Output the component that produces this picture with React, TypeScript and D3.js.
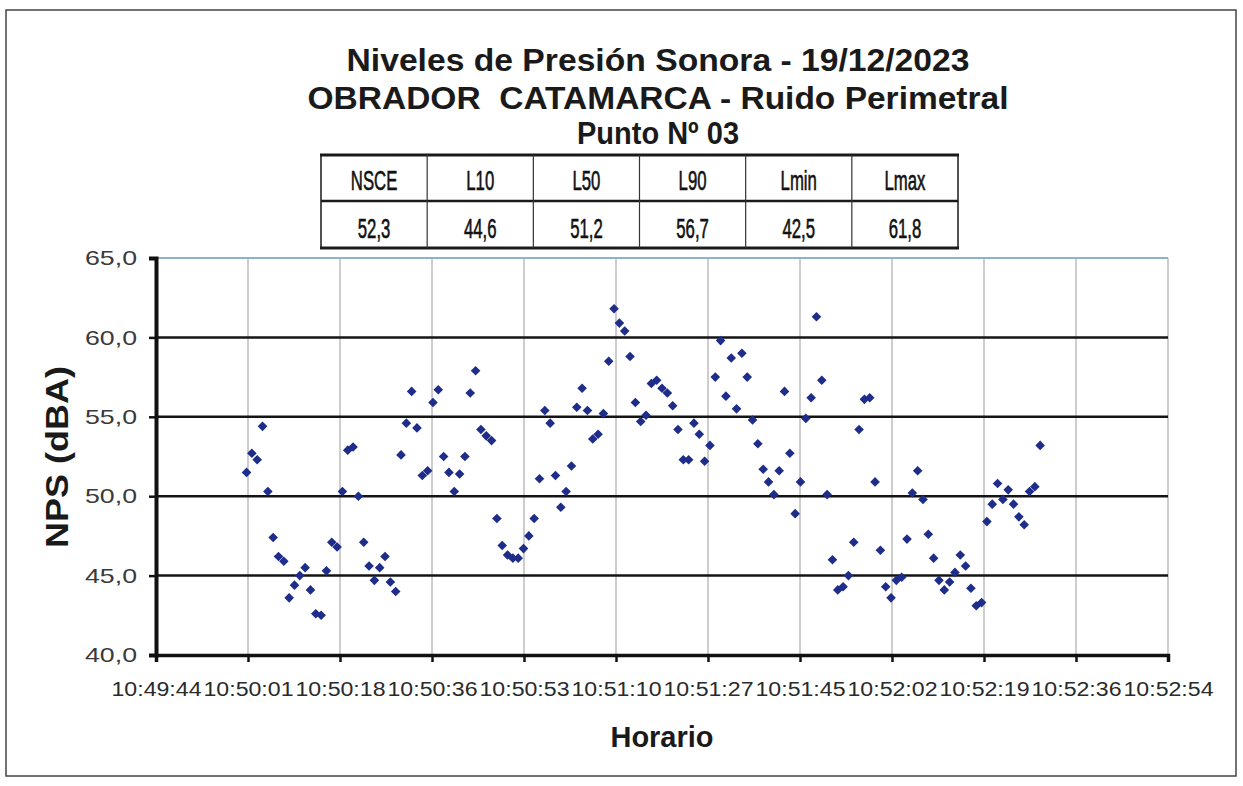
import { useRef, useEffect } from 'react'
import * as d3 from 'd3'

const W = 1243
const H = 786
const MARGIN = { top: 258, right: 75, bottom: 131, left: 156 }
const FONT = '"Liberation Sans", Arial, Helvetica, sans-serif'

const TITLE_LINES = [
  'Niveles de Presión Sonora - 19/12/2023',
  'OBRADOR  CATAMARCA - Ruido Perimetral',
  'Punto Nº 03',
]
const TABLE_HEADERS = ['NSCE', 'L10', 'L50', 'L90', 'Lmin', 'Lmax']
const TABLE_VALUES = ['52,3', '44,6', '51,2', '56,7', '42,5', '61,8']

const X_MIN = '10:49:44'
const X_MAX = '10:52:54'
const X_TICK_LABELS = [
  '10:49:44', '10:50:01', '10:50:18', '10:50:36', '10:50:53', '10:51:10',
  '10:51:27', '10:51:45', '10:52:02', '10:52:19', '10:52:36', '10:52:54',
]
const Y_TICKS = [40, 45, 50, 55, 60, 65]

// one reading per second starting at 10:50:01
const SAMPLE_START = '10:50:01'
const NPS = [
  51.5, 52.7, 52.3, 54.4, 50.3, 47.4, 46.2, 45.9, 43.6, 44.4, 45.0, 45.5, 44.1, 42.6, 42.5, 45.3,
  47.1, 46.8, 50.3, 52.9, 53.1, 50.0, 47.1, 45.6, 44.7, 45.5, 46.2, 44.6, 44.0, 52.6, 54.6, 56.6,
  54.3, 51.3, 51.6, 55.9, 56.7,
  52.5, 51.5, 50.3, 51.4, 52.5, 56.5, 57.9, 54.2, 53.8, 53.5, 48.6, 46.9, 46.3, 46.1, 46.1, 46.7,
  47.5, 48.6, 51.1, 55.4, 54.6, 51.3, 49.3, 50.3, 51.9, 55.6, 56.8, 55.4, 53.6, 53.9, 55.2, 58.5,
  61.8, 60.9, 60.4, 58.8, 55.9, 54.7, 55.1,
  57.1, 57.3, 56.8, 56.5, 55.7, 54.2, 52.3, 52.3, 54.6, 53.9, 52.2, 53.2, 57.5, 59.8, 56.3, 58.7,
  55.5, 59.0, 57.5, 54.8, 53.3, 51.7, 50.9, 50.1, 51.6, 56.6, 52.7, 48.9, 50.9, 54.9, 56.2, 61.3,
  57.3, 50.1, 46.0, 44.1, 44.3,
  45.0, 47.1, 54.2, 56.1, 56.2, 50.9, 46.6, 44.3, 43.6, 44.7, 44.9, 47.3, 50.2, 51.6, 49.8, 47.6,
  46.1, 44.7, 44.1, 44.6, 45.2, 46.3, 45.6, 44.2, 43.1, 43.3, 48.4, 49.5, 50.8, 49.8, 50.4, 49.5,
  48.7, 48.2, 50.3, 50.6, 53.2,
]

export default function App() {
  const svgRef = useRef<SVGSVGElement>(null)

  useEffect(() => {
    document.body.style.margin = '0'
    if (!svgRef.current) return
    const el = d3.select(svgRef.current)
    el.selectAll('*').remove()

    const parse = d3.timeParse('%H:%M:%S')
    const t0 = parse(X_MIN)!.getTime()
    const t1 = parse(X_MAX)!.getTime()
    const start = parse(SAMPLE_START)!.getTime()
    const points = NPS.map((v, i) => ({ t: new Date(start + i * 1000), v }))

    const x = d3.scaleTime().domain([new Date(t0), new Date(t1)]).range([MARGIN.left, W - MARGIN.right])
    const y = d3.scaleLinear().domain([40, 65]).range([H - MARGIN.bottom, MARGIN.top])
    const xTicks = X_TICK_LABELS.map((_, i) => new Date(t0 + (i * (t1 - t0)) / (X_TICK_LABELS.length - 1)))

    el.append('rect').attr('width', W).attr('height', H).attr('fill', '#fff')
    el.append('rect')
      .attr('x', 6).attr('y', 10).attr('width', 1230).attr('height', 766)
      .attr('fill', 'none').attr('stroke', '#444').attr('stroke-width', 1.5)

    // Titles
    const titleY = [71, 109, 144]
    const titleW = [623, 701, 162]
    TITLE_LINES.forEach((line, i) => {
      el.append('text')
        .attr('x', 658).attr('y', titleY[i])
        .attr('text-anchor', 'middle')
        .style('white-space', 'pre')
        .attr('font-family', FONT).attr('font-weight', 'bold')
        .attr('font-size', 32).attr('fill', '#1a1a1a')
        .attr('textLength', titleW[i]).attr('lengthAdjust', 'spacingAndGlyphs')
        .text(line)
    })

    // Stats table
    const tx = d3.scaleBand().domain(TABLE_HEADERS).range([321, 958])
    const rowsY = [155, 201, 248]
    const tg = el.append('g')
    tg.append('rect')
      .attr('x', 321).attr('y', rowsY[0]).attr('width', 637).attr('height', rowsY[2] - rowsY[0])
      .attr('fill', 'none').attr('stroke', '#1a1a1a').attr('stroke-width', 1.5)
    ;[rowsY[0], rowsY[2]].forEach((yy) => {
      tg.append('line').attr('x1', 320).attr('x2', 959).attr('y1', yy).attr('y2', yy)
        .attr('stroke', '#1a1a1a').attr('stroke-width', 3)
    })
    tg.append('line').attr('x1', 321).attr('x2', 958).attr('y1', rowsY[1]).attr('y2', rowsY[1])
      .attr('stroke', '#1a1a1a').attr('stroke-width', 2.5)
    TABLE_HEADERS.slice(1).forEach((h) => {
      tg.append('line').attr('x1', tx(h)!).attr('x2', tx(h)!).attr('y1', rowsY[0]).attr('y2', rowsY[2])
        .attr('stroke', '#333').attr('stroke-width', 1.2)
    })
    const cell = (label: string, cx: number, cy: number) => {
      tg.append('text')
        .attr('transform', `translate(${cx},${cy}) scale(0.62,1)`)
        .attr('text-anchor', 'middle')
        .attr('font-family', FONT).attr('font-size', 27).attr('fill', '#111')
        .attr('stroke', '#111').attr('stroke-width', 0.6)
        .text(label)
    }
    TABLE_HEADERS.forEach((h, i) => {
      const cx = tx(h)! + tx.bandwidth() / 2
      cell(h, cx, 190)
      cell(TABLE_VALUES[i], cx, 238)
    })

    // Vertical gridlines
    el.append('g')
      .selectAll('line')
      .data(xTicks.slice(1))
      .join('line')
      .attr('x1', (d) => x(d)).attr('x2', (d) => x(d))
      .attr('y1', y(40)).attr('y2', y(65))
      .attr('stroke', '#bdbdbd').attr('stroke-width', 1.5)

    // Top border line at 65
    el.append('line')
      .attr('x1', x(xTicks[0])).attr('x2', x(xTicks[xTicks.length - 1]))
      .attr('y1', y(65)).attr('y2', y(65))
      .attr('stroke', '#8fb3c4').attr('stroke-width', 2)

    // Horizontal gridlines
    el.append('g')
      .selectAll('line')
      .data(Y_TICKS.filter((d) => d > 40 && d < 65))
      .join('line')
      .attr('x1', x(xTicks[0])).attr('x2', x(xTicks[xTicks.length - 1]))
      .attr('y1', (d) => y(d)).attr('y2', (d) => y(d))
      .attr('stroke', '#141414').attr('stroke-width', 2.5)

    // X axis
    el.append('g')
      .attr('transform', `translate(0,${y(40)})`)
      .call(d3.axisBottom(x).tickValues(xTicks).tickSize(7).tickFormat((_, i) => X_TICK_LABELS[i]))
      .call((g) => {
        g.select('.domain').attr('stroke', '#111').attr('stroke-width', 3.5)
        g.selectAll('.tick line').attr('stroke', '#111').attr('stroke-width', 2.5)
        g.selectAll('text')
          .attr('font-family', FONT).attr('font-size', 20).attr('fill', '#2a2a2a')
          .attr('y', 0).attr('dy', 41)
          .attr('textLength', 90).attr('lengthAdjust', 'spacingAndGlyphs')
      })

    // Y axis
    el.append('g')
      .attr('transform', `translate(${x(xTicks[0])},0)`)
      .call(d3.axisLeft(y).tickValues(Y_TICKS).tickSize(7).tickFormat((d) => d3.format('.1f')(d as number).replace('.', ',')))
      .call((g) => {
        g.select('.domain').attr('stroke', '#111').attr('stroke-width', 4)
        g.selectAll('.tick line').attr('stroke', '#111').attr('stroke-width', 2.5)
        g.selectAll('text')
          .attr('font-family', FONT).attr('font-size', 21).attr('fill', '#3a3a3a')
          .attr('x', -19)
          .attr('textLength', 52).attr('lengthAdjust', 'spacingAndGlyphs')
      })

    // Points
    el.append('g')
      .selectAll('path')
      .data(points)
      .join('path')
      .attr('transform', (d) => `translate(${x(d.t)},${y(d.v)})`)
      .attr('d', 'M0,-4.8L4.8,0L0,4.8L-4.8,0Z')
      .attr('fill', '#1f2d8a')

    // Axis titles
    el.append('text')
      .attr('x', 662).attr('y', 747)
      .attr('text-anchor', 'middle')
      .attr('font-family', FONT).attr('font-weight', 'bold').attr('font-size', 29).attr('fill', '#1a1a1a')
      .attr('textLength', 103).attr('lengthAdjust', 'spacingAndGlyphs')
      .text('Horario')
    el.append('text')
      .attr('transform', `translate(68,457) rotate(-90)`)
      .attr('text-anchor', 'middle')
      .attr('font-family', FONT).attr('font-weight', 'bold').attr('font-size', 32).attr('fill', '#1a1a1a')
      .attr('textLength', 182).attr('lengthAdjust', 'spacingAndGlyphs')
      .text('NPS (dBA)')
  }, [])

  return <svg ref={svgRef} width={W} height={H} style={{ display: 'block' }} />
}
